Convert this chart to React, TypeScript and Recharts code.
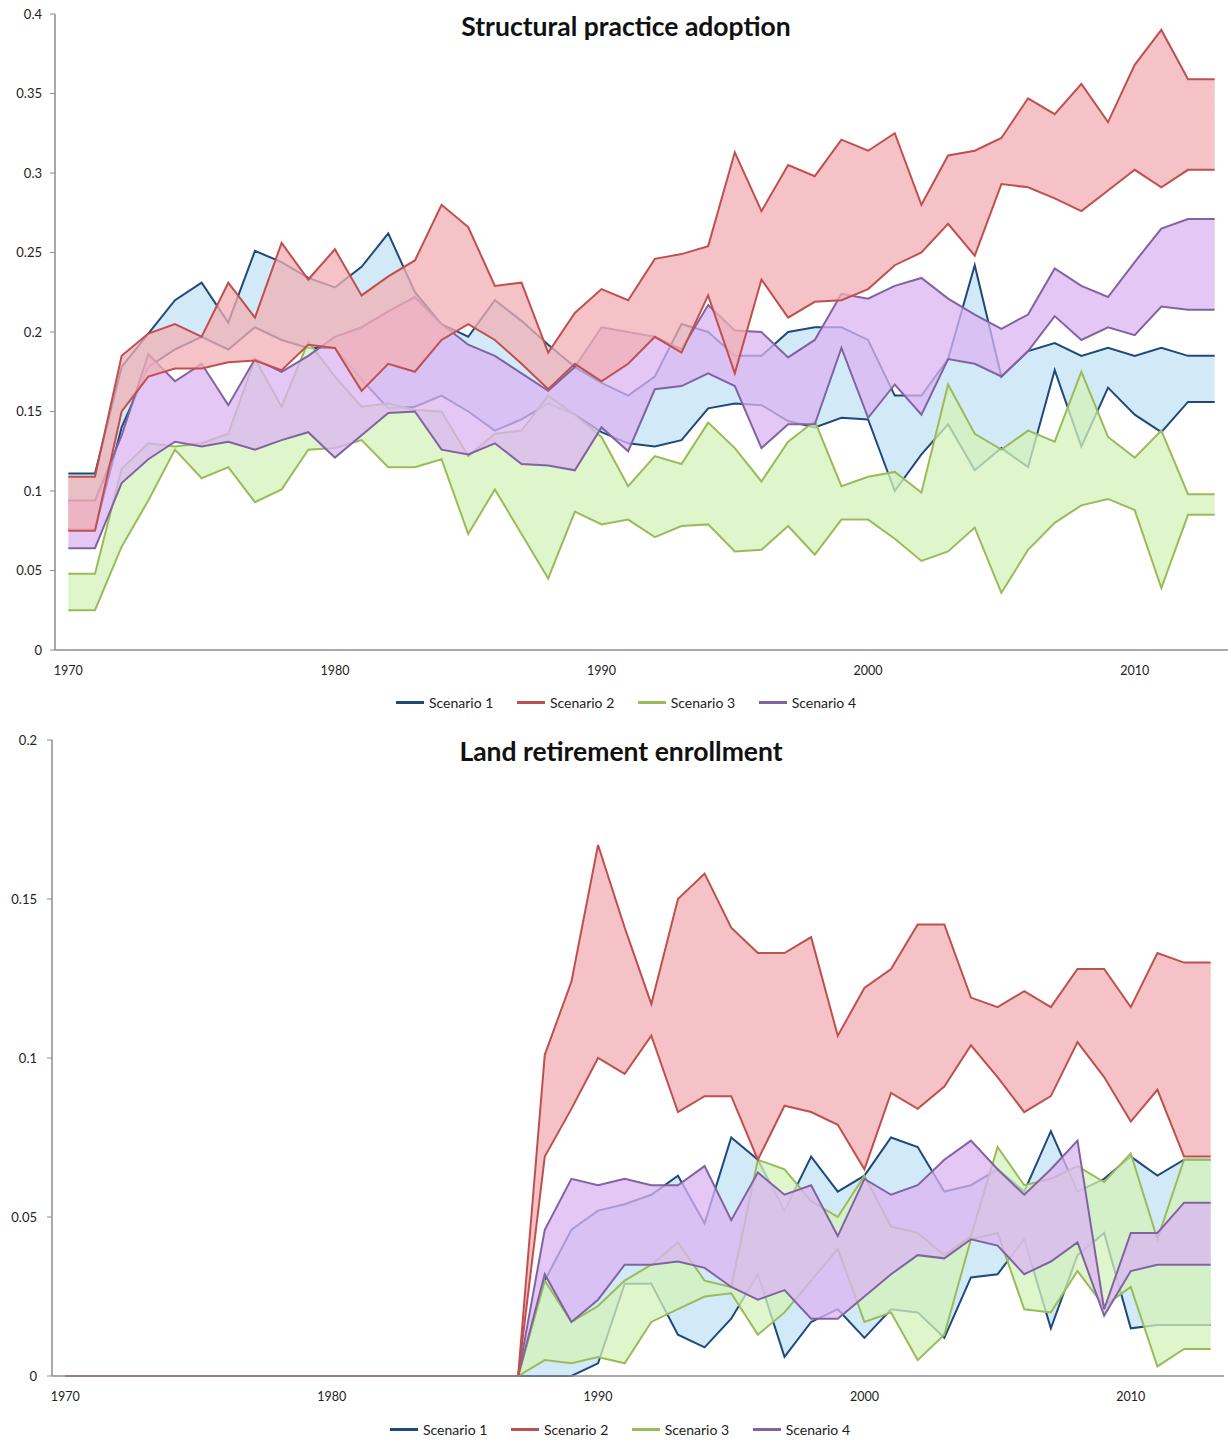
import React from "react"
import { ComposedChart, Area, XAxis, YAxis } from "recharts"

const years = [
  1970, 1971, 1972, 1973, 1974, 1975, 1976, 1977, 1978, 1979,
  1980, 1981, 1982, 1983, 1984, 1985, 1986, 1987, 1988, 1989,
  1990, 1991, 1992, 1993, 1994, 1995, 1996, 1997, 1998, 1999,
  2000, 2001, 2002, 2003, 2004, 2005, 2006, 2007, 2008, 2009,
  2010, 2011, 2012, 2013,
]
const yearTicks = [1970, 1980, 1990, 2000, 2010]

// Structural practice adoption (upper / lower bound per scenario)
const s1HiTop = [
  0.111, 0.111, 0.178, 0.199, 0.22, 0.231, 0.206, 0.251, 0.244, 0.234,
  0.228, 0.241, 0.262, 0.225, 0.205, 0.197, 0.22, 0.207, 0.192, 0.178,
  0.168, 0.16, 0.172, 0.205, 0.2, 0.185, 0.185, 0.2, 0.203, 0.203,
  0.195, 0.16, 0.16, 0.183, 0.242, 0.172, 0.188, 0.193, 0.185, 0.19,
  0.185, 0.19, 0.185, 0.185,
]
const s1LoTop = [
  0.076, 0.076, 0.14, 0.178, 0.189, 0.197, 0.189, 0.203, 0.195, 0.19,
  0.19, 0.17, 0.152, 0.153, 0.16, 0.15, 0.138, 0.145, 0.155, 0.148,
  0.137, 0.13, 0.128, 0.132, 0.152, 0.155, 0.154, 0.144, 0.14, 0.146,
  0.145, 0.1, 0.123, 0.142, 0.113, 0.127, 0.115, 0.176, 0.128, 0.165,
  0.148, 0.137, 0.156, 0.156,
]
const s2HiTop = [
  0.109, 0.109, 0.185, 0.199, 0.205, 0.197, 0.231, 0.209, 0.256, 0.233,
  0.252, 0.223, 0.235, 0.245, 0.28, 0.266, 0.229, 0.231, 0.187, 0.212,
  0.227, 0.22, 0.246, 0.249, 0.254, 0.313, 0.276, 0.305, 0.298, 0.321,
  0.314, 0.325, 0.28, 0.311, 0.314, 0.322, 0.347, 0.337, 0.356, 0.332,
  0.368, 0.39, 0.359, 0.359,
]
const s2LoTop = [
  0.075, 0.075, 0.15, 0.172, 0.177, 0.177, 0.181, 0.182, 0.176, 0.192,
  0.19, 0.163, 0.18, 0.175, 0.195, 0.205, 0.195, 0.18, 0.164, 0.18,
  0.169, 0.18, 0.197, 0.187, 0.223, 0.174, 0.233, 0.209, 0.219, 0.22,
  0.227, 0.242, 0.25, 0.268, 0.248, 0.293, 0.291, 0.284, 0.276, 0.289,
  0.302, 0.291, 0.302, 0.302,
]
const s3HiTop = [
  0.048, 0.048, 0.114, 0.13, 0.128, 0.13, 0.136, 0.183, 0.153, 0.194,
  0.172, 0.153, 0.155, 0.151, 0.15, 0.122, 0.136, 0.138, 0.16, 0.148,
  0.134, 0.103, 0.122, 0.117, 0.143, 0.127, 0.106, 0.131, 0.144, 0.103,
  0.109, 0.112, 0.099, 0.167, 0.136, 0.126, 0.138, 0.131, 0.175, 0.134,
  0.121, 0.138, 0.098, 0.098,
]
const s3LoTop = [
  0.025, 0.025, 0.065, 0.094, 0.126, 0.108, 0.115, 0.093, 0.101, 0.126,
  0.127, 0.132, 0.115, 0.115, 0.12, 0.073, 0.101, 0.073, 0.045, 0.087,
  0.079, 0.082, 0.071, 0.078, 0.079, 0.062, 0.063, 0.078, 0.06, 0.082,
  0.082, 0.07, 0.056, 0.062, 0.077, 0.036, 0.063, 0.08, 0.091, 0.095,
  0.088, 0.039, 0.085, 0.085,
]
const s4HiTop = [
  0.094, 0.094, 0.135, 0.186, 0.169, 0.18, 0.154, 0.183, 0.175, 0.185,
  0.197, 0.203, 0.213, 0.222, 0.205, 0.192, 0.185, 0.174, 0.163, 0.178,
  0.203, 0.2, 0.197, 0.189, 0.217, 0.201, 0.2, 0.184, 0.195, 0.224,
  0.221, 0.229, 0.234, 0.221, 0.211, 0.202, 0.211, 0.24, 0.229, 0.222,
  0.244, 0.265, 0.271, 0.271,
]
const s4LoTop = [
  0.064, 0.064, 0.105, 0.12, 0.131, 0.128, 0.131, 0.126, 0.132, 0.137,
  0.121, 0.135, 0.149, 0.15, 0.126, 0.123, 0.13, 0.117, 0.116, 0.113,
  0.14, 0.125, 0.164, 0.166, 0.174, 0.166, 0.127, 0.142, 0.142, 0.19,
  0.146, 0.167, 0.148, 0.183, 0.18, 0.172, 0.188, 0.21, 0.195, 0.203,
  0.198, 0.216, 0.214, 0.214,
]

// Land retirement enrollment
const s1HiBot = [
  0, 0, 0, 0, 0, 0, 0, 0, 0, 0,
  0, 0, 0, 0, 0, 0, 0, 0, 0.03, 0.046,
  0.052, 0.054, 0.057, 0.063, 0.048, 0.075, 0.068, 0.052, 0.069, 0.058,
  0.063, 0.075, 0.072, 0.058, 0.06, 0.065, 0.058, 0.077, 0.058, 0.062,
  0.069, 0.063, 0.068, 0.068,
]
const s1LoBot = [
  0, 0, 0, 0, 0, 0, 0, 0, 0, 0,
  0, 0, 0, 0, 0, 0, 0, 0, 0, 0,
  0.004, 0.029, 0.029, 0.013, 0.009, 0.018, 0.032, 0.006, 0.017, 0.021,
  0.012, 0.021, 0.02, 0.012, 0.031, 0.032, 0.043, 0.015, 0.038, 0.045,
  0.015, 0.016, 0.016, 0.016,
]
const s2HiBot = [
  0, 0, 0, 0, 0, 0, 0, 0, 0, 0,
  0, 0, 0, 0, 0, 0, 0, 0, 0.101, 0.124,
  0.167, 0.141, 0.117, 0.15, 0.158, 0.141, 0.133, 0.133, 0.138, 0.107,
  0.122, 0.128, 0.142, 0.142, 0.119, 0.116, 0.121, 0.116, 0.128, 0.128,
  0.116, 0.133, 0.13, 0.13,
]
const s2LoBot = [
  0, 0, 0, 0, 0, 0, 0, 0, 0, 0,
  0, 0, 0, 0, 0, 0, 0, 0, 0.069, 0.084,
  0.1, 0.095, 0.107, 0.083, 0.088, 0.088, 0.068, 0.085, 0.083, 0.079,
  0.065, 0.089, 0.084, 0.091, 0.104, 0.094, 0.083, 0.088, 0.105, 0.094,
  0.08, 0.09, 0.069, 0.069,
]
const s3HiBot = [
  0, 0, 0, 0, 0, 0, 0, 0, 0, 0,
  0, 0, 0, 0, 0, 0, 0, 0, 0.03, 0.017,
  0.022, 0.03, 0.035, 0.042, 0.03, 0.028, 0.068, 0.065, 0.055, 0.05,
  0.063, 0.047, 0.045, 0.038, 0.044, 0.072, 0.06, 0.062, 0.066, 0.061,
  0.07, 0.043, 0.068, 0.068,
]
const s3LoBot = [
  0, 0, 0, 0, 0, 0, 0, 0, 0, 0,
  0, 0, 0, 0, 0, 0, 0, 0, 0.005, 0.004,
  0.006, 0.004, 0.017, 0.021, 0.025, 0.026, 0.013, 0.02, 0.03, 0.04,
  0.017, 0.02, 0.005, 0.013, 0.043, 0.045, 0.021, 0.02, 0.033, 0.022,
  0.028, 0.003, 0.0085, 0.0085,
]
const s4HiBot = [
  0, 0, 0, 0, 0, 0, 0, 0, 0, 0,
  0, 0, 0, 0, 0, 0, 0, 0, 0.046, 0.062,
  0.06, 0.062, 0.06, 0.06, 0.066, 0.049, 0.064, 0.057, 0.06, 0.044,
  0.062, 0.057, 0.06, 0.068, 0.074, 0.065, 0.057, 0.065, 0.074, 0.021,
  0.045, 0.045, 0.0545, 0.0545,
]
const s4LoBot = [
  0, 0, 0, 0, 0, 0, 0, 0, 0, 0,
  0, 0, 0, 0, 0, 0, 0, 0, 0.032, 0.017,
  0.024, 0.035, 0.035, 0.036, 0.034, 0.028, 0.024, 0.027, 0.018, 0.018,
  0.025, 0.032, 0.038, 0.037, 0.043, 0.041, 0.032, 0.036, 0.042, 0.019,
  0.033, 0.035, 0.035, 0.035,
]

const topTicks = [0, 0.05, 0.1, 0.15, 0.2, 0.25, 0.3, 0.35, 0.4]
const bottomTicks = [0, 0.05, 0.1, 0.15, 0.2]

const FONT = "Lato, 'Open Sans', sans-serif"

// fills are drawn fairly opaque so lines underneath look washed out, like in the original
const scenarios = [
  { key: "s1", name: "Scenario 1", stroke: "#1F497D", fill: "#C3E2F6" },
  { key: "s2", name: "Scenario 2", stroke: "#C0504D", fill: "#F2AFB4" },
  { key: "s3", name: "Scenario 3", stroke: "#9BBB59", fill: "#D4F2BA" },
  { key: "s4", name: "Scenario 4", stroke: "#8064A2", fill: "#DBB4F2" },
]
// stacking order of the bands (red ends up on top)
const drawOrder = ["s1", "s3", "s4", "s2"]

function buildRows(bands: number[][][]) {
  return years.map((year, i) => ({
    year,
    s1: [bands[0][0][i], bands[0][1][i]],
    s2: [bands[1][0][i], bands[1][1][i]],
    s3: [bands[2][0][i], bands[2][1][i]],
    s4: [bands[3][0][i], bands[3][1][i]],
  }))
}

const topRows = buildRows([
  [s1LoTop, s1HiTop],
  [s2LoTop, s2HiTop],
  [s3LoTop, s3HiTop],
  [s4LoTop, s4HiTop],
])
const bottomRows = buildRows([
  [s1LoBot, s1HiBot],
  [s2LoBot, s2HiBot],
  [s3LoBot, s3HiBot],
  [s4LoBot, s4HiBot],
])

const fmt = (v: number) => String(Number(v.toFixed(2)))

function BandChart({ rows, yMax, yTicks, axisWidth, right, labelGap }: {
  rows: any[]; yMax: number; yTicks: number[]; axisWidth: number; right: number; labelGap: number
}) {
  return (
    <ComposedChart width={1228} height={680} data={rows} margin={{ top: 14, right, left: 0, bottom: 0 }}>
      <XAxis
        type="number"
        dataKey="year"
        domain={[1969.5, 2013.5]}
        ticks={yearTicks}
        allowDataOverflow
        tickLine={false}
        tickMargin={10}
        height={30}
        axisLine={{ stroke: "#8c8c8c", strokeWidth: 1.5 }}
        tick={{ fill: "#222", fontSize: 12.5, fontFamily: FONT }}
      />
      <YAxis
        type="number"
        domain={[0, yMax]}
        ticks={yTicks}
        width={axisWidth}
        tickSize={5}
        tickMargin={labelGap}
        tickFormatter={fmt}
        axisLine={{ stroke: "#8c8c8c", strokeWidth: 1.5 }}
        tickLine={{ stroke: "#8c8c8c" }}
        tick={{ fill: "#222", fontSize: 13, fontFamily: FONT }}
      />
      {drawOrder.map((k) => {
        const s = scenarios.find((x) => x.key === k)!
        return (
          <Area
            key={s.key}
            type="linear"
            dataKey={s.key}
            name={s.name}
            stroke={s.stroke}
            strokeWidth={2}
            fill={s.fill}
            fillOpacity={0.75}
            dot={false}
            activeDot={false}
            isAnimationActive={false}
          />
        )
      })}
    </ComposedChart>
  )
}

function LegendRow({ top, left }: { top: number; left: number }) {
  return (
    <div style={{ position: "absolute", top, left, display: "flex", alignItems: "center", fontFamily: FONT, fontSize: 14, color: "#222" }}>
      {scenarios.map((s) => (
        <div key={s.key} style={{ display: "flex", alignItems: "center", marginRight: 23.5 }}>
          <span style={{ display: "inline-block", width: 28, height: 2.5, background: s.stroke, marginRight: 5 }} />
          <span>{s.name}</span>
        </div>
      ))}
    </div>
  )
}

export default function App() {
  return (
    <div style={{ position: "absolute", left: 0, top: 0, width: 1228, height: 1441, background: "#fff" }}>
      <div style={{ position: "absolute", left: 0, top: 0 }}>
        <BandChart rows={topRows} yMax={0.4} yTicks={topTicks} axisWidth={55} right={0} labelGap={8} />
      </div>
      <div style={{ position: "absolute", left: 0, top: 726 }}>
        <BandChart rows={bottomRows} yMax={0.2} yTicks={bottomTicks} axisWidth={52} right={4} labelGap={10} />
      </div>
      <div style={{ position: "absolute", left: 326, top: 10, width: 600, textAlign: "center", fontFamily: FONT, fontWeight: 700, fontSize: 26.5, color: "#111" }}>
        Structural practice adoption
      </div>
      <div style={{ position: "absolute", left: 321, top: 735, width: 600, textAlign: "center", fontFamily: FONT, fontWeight: 700, fontSize: 26.5, color: "#111" }}>
        Land retirement enrollment
      </div>
      <LegendRow top={694} left={396} />
      <LegendRow top={1421} left={390} />
    </div>
  )
}
